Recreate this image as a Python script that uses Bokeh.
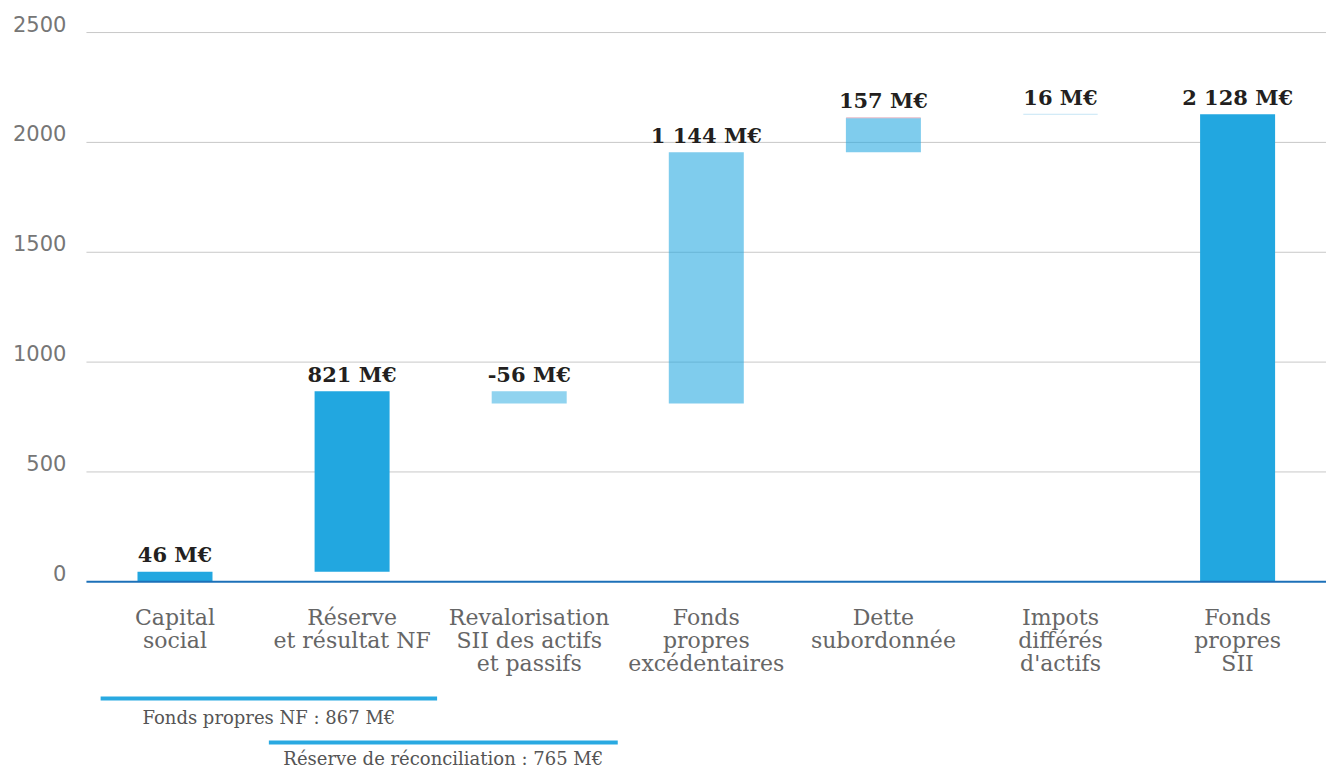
from bokeh.plotting import figure
from bokeh.models import Range1d
from bokeh.core.properties import value
from bokeh.embed import file_html
from bokeh.resources import INLINE

# ---------------- data ----------------
categories = [
    "Capital\nsocial",
    "Réserve\net résultat NF",
    "Revalorisation\nSII des actifs\net passifs",
    "Fonds\npropres\nexcédentaires",
    "Dette\nsubordonnée",
    "Impots\ndifférés\nd'actifs",
    "Fonds\npropres\nSII",
]
values = [46, 821, -56, 1144, 157, 16, 2128]
is_total = [False, False, False, False, False, False, True]
value_labels = ["46 M€", "821 M€", "-56 M€", "1 144 M€", "157 M€", "16 M€", "2 128 M€"]
y_ticks = [0, 500, 1000, 1500, 2000, 2500]
brackets_text = ["Fonds propres NF : 867 M€", "Réserve de réconciliation : 765 M€"]
brackets_first = [0, 1]
brackets_last = [1, 2]

# ---------------- waterfall geometry ----------------
xs = list(range(len(categories)))
bottoms, tops = [], []
run = 0
for v, tot in zip(values, is_total):
    if tot:
        bottoms.append(0)
        tops.append(v)
        run = v
    else:
        bottoms.append(run)
        tops.append(run + v)
        run += v
upper = [max(b, t) for b, t in zip(bottoms, tops)]

DARK = "#22a7e0"
alphas = []
for i, (v, tot) in enumerate(zip(values, is_total)):
    if tot or i < 2:
        alphas.append(1.0)
    elif v < 0:
        alphas.append(0.5)
    else:
        alphas.append(0.58)

W, H = 1326, 770
PX = 0.2197          # pixels per unit on the y scale
ZERO_PX = 581.3      # pixel row of the zero line
p = figure(width=W, height=H,
           x_range=Range1d(-0.9853, 6.502),
           y_range=Range1d(-(H - ZERO_PX) / PX, ZERO_PX / PX),
           x_axis_location=None, y_axis_location=None,
           output_backend="svg", toolbar_location=None, min_border=0)
p.grid.visible = False
p.outline_line_color = None
p.background_fill_color = "white"

n = len(categories)
# gridlines
p.segment(x0=[-0.5] * len(y_ticks[1:]), y0=y_ticks[1:], x1=[n - 0.5] * len(y_ticks[1:]),
          y1=y_ticks[1:], line_color="#c8c8c8", line_width=1)

# y tick labels
p.text(x=[-0.5] * len(y_ticks), y=y_ticks, text=[str(t) for t in y_ticks],
       x_offset=-20, y_offset=-9, text_align="right", text_baseline="middle",
       text_font=value("DejaVu Sans"), text_font_size="21px", text_color="#767676")

# bars (tiny ones drawn as a hairline)
big = [i for i in xs if abs(values[i]) > 20]
p.vbar(x=[xs[i] for i in big], width=0.4235,
       bottom=[bottoms[i] for i in big], top=[tops[i] for i in big],
       fill_color=DARK, fill_alpha=[alphas[i] for i in big],
       line_color=None)
small = [i for i in xs if abs(values[i]) <= 20]
p.segment(x0=[xs[i] - 0.21 for i in small], y0=[upper[i] for i in small],
          x1=[xs[i] + 0.21 for i in small], y1=[upper[i] for i in small],
          line_color="#c6e6f5", line_width=1)
# pink hairline on top of the subordinated debt bar
p.segment(x0=[4 - 0.21], y0=[upper[4]], x1=[4 + 0.21], y1=[upper[4]],
          line_color="#f2bcc8", line_width=1)

# zero line
p.segment(x0=[-0.5], y0=[0], x1=[n - 0.5], y1=[0], line_color="#1c70b8", line_width=2)

# value labels
p.text(x=xs, y=upper, text=value_labels, y_offset=-17,
       text_align="center", text_baseline="middle",
       text_font=value("DejaVu Serif"), text_font_style="bold",
       text_font_size="21px", text_color="#231f20")

# category labels
p.text(x=xs, y=[0] * n, text=categories, y_offset=23,
       text_align="center", text_baseline="top", text_line_height=0.93,
       text_font=value("DejaVu Serif"), text_font_size="22px", text_color="#666666")

# brackets below the axis
line_y = [-(698 - ZERO_PX) / PX, -(742 - ZERO_PX) / PX]
text_y = [-(717 - ZERO_PX) / PX, -(758 - ZERO_PX) / PX]
x0s = [brackets_first[0] - 0.42, brackets_first[1] - 0.47]
x1s = [brackets_last[0] + 0.48, brackets_last[1] + 0.5]
p.segment(x0=x0s, y0=line_y, x1=x1s, y1=line_y, line_color="#29a9e1", line_width=4)
p.text(x=[(a + b) / 2 for a, b in zip(x0s, x1s)], y=text_y, text=brackets_text,
       text_align="center", text_baseline="middle",
       text_font=value("DejaVu Serif"), text_font_size="18px", text_color="#555555")

open("out.html", "w").write(file_html(p, INLINE))
